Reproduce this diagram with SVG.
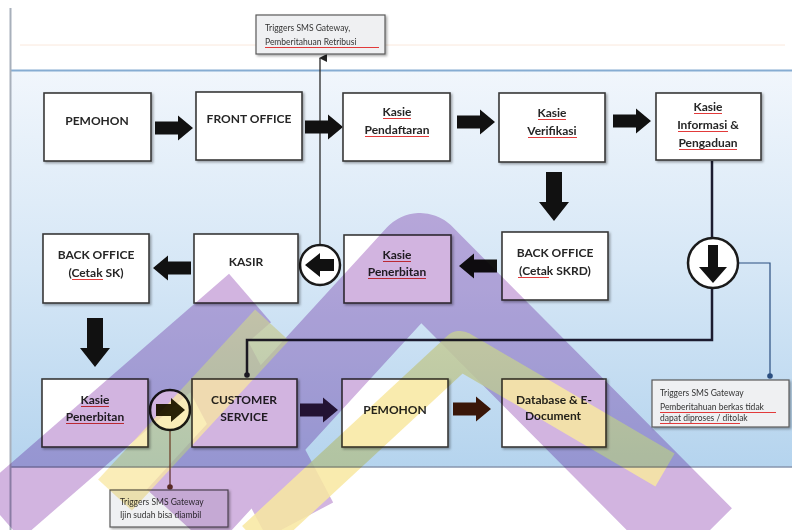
<svg xmlns="http://www.w3.org/2000/svg" xmlns:xlink="http://www.w3.org/1999/xlink" width="792" height="530" viewBox="0 0 792 530">
<defs>
<linearGradient id="bg" x1="0" y1="0" x2="0" y2="1">
<stop offset="0" stop-color="#f1f6fc"/>
<stop offset="0.5" stop-color="#d6e7f6"/>
<stop offset="1" stop-color="#b5d4ee"/>
</linearGradient>
<filter id="sh" x="-10%" y="-10%" width="125%" height="130%">
<feDropShadow dx="1.5" dy="1.5" stdDeviation="1" flood-color="#000" flood-opacity="0.35"/>
</filter>
<path id="arrH" d="M0,-6.5 H23 V-12.5 L38,0 L23,12.5 V6.5 H0 Z"/>
<path id="arrV" d="M-8,0 H8 V30 H15 L0,49 L-15,30 H-8 Z"/>
<marker id="dot" viewBox="0 0 6 6" refX="3" refY="3" markerWidth="6" markerHeight="6" markerUnits="userSpaceOnUse">
<circle cx="3" cy="3" r="2.8" fill="context-stroke"/>
</marker>
<marker id="tri" viewBox="0 0 8 8" refX="4" refY="1" markerWidth="8" markerHeight="8" markerUnits="userSpaceOnUse" orient="auto-start-reverse">
<path d="M0,8 L4,0 L8,8 Z" fill="#222"/>
</marker>
</defs>
<style>
.box{fill:#ffffff;stroke:#3a3a3a;stroke-width:1.6;filter:url(#sh)}
.trig{fill:#eff0f2;stroke:#5a5a5a;stroke-width:1.2;filter:url(#sh)}
.t{font-family:Lato,"Liberation Sans",sans-serif;font-weight:bold;font-size:12px;fill:#262626;text-anchor:middle}
.s{font-family:Lato,"Liberation Sans",sans-serif;font-size:8.5px;fill:#333}
.sq{stroke:#e23a3a;stroke-width:1;fill:none}
.blk{fill:#111}
.circ{fill:#ffffff;stroke:#1a1a1a;stroke-width:2.5}
#watermark{mix-blend-mode:multiply}
.wp{fill:none;stroke:#d2b4e0;stroke-linejoin:round}
.wy{fill:none;stroke:#f8e7a0;stroke-linejoin:round}
</style>
<rect x="0" y="0" width="792" height="530" fill="#ffffff"/>
<line x1="20" y1="45" x2="785" y2="45" stroke="#f6d9c4" stroke-width="1" opacity="0.6"/>
<rect x="10" y="70" width="790" height="397" fill="url(#bg)"/>
<line x1="10" y1="70.5" x2="792" y2="70.5" stroke="#86acd2" stroke-width="2"/>
<line x1="10" y1="467" x2="792" y2="467" stroke="#8796ae" stroke-width="1.5"/>
<line x1="10.5" y1="8" x2="10.5" y2="530" stroke="#a8b0bb" stroke-width="2"/>

<g id="connectors">
<line x1="320" y1="245" x2="320" y2="58" stroke="#2a2a2a" stroke-width="1.3" marker-end="url(#tri)"/>
<polyline points="712,161 712,238" fill="none" stroke="#1c1c30" stroke-width="2.5"/>
<polyline points="712,288 712,340 247,340 247,375" fill="none" stroke="#1c1c30" stroke-width="2.5" marker-end="url(#dot)"/>
<polyline points="738,263 770,263 770,376" fill="none" stroke="#2b4f80" stroke-width="1.2" marker-end="url(#dot)"/>
<line x1="170" y1="431" x2="170" y2="487" stroke="#6b3a2a" stroke-width="1.2" marker-end="url(#dot)"/>
<use href="#arrH" class="blk" transform="translate(155,128)"/>
<use href="#arrH" class="blk" transform="translate(305,127)"/>
<use href="#arrH" class="blk" transform="translate(457,122)"/>
<use href="#arrH" class="blk" transform="translate(613,121)"/>
<use href="#arrV" class="blk" transform="translate(554,172)"/>
<use href="#arrH" class="blk" transform="translate(497,266) rotate(180)"/>
<use href="#arrH" class="blk" transform="translate(191,268) rotate(180)"/>
<use href="#arrV" class="blk" transform="translate(95,318)"/>
<use href="#arrH" fill="#2a1a3a" transform="translate(300,410)"/>
<use href="#arrH" fill="#3a1608" transform="translate(453,409)"/>
</g>

<g id="circle-kasir">
<circle class="circ" cx="320" cy="265" r="20"/>
<path class="blk" d="M334,259 H320 V253 L305,265 L320,277 V271 H334 Z"/>
</g>
<g id="circle-info">
<circle class="circ" cx="713" cy="263" r="25"/>
<path class="blk" d="M708,245 H718 V267 H727 L713,283 L699,267 H708 Z"/>
</g>
<g id="circle-cs">
<circle class="circ" cx="170" cy="410" r="20" stroke="#3a3010"/>
<path fill="#2a2408" d="M156,404 H171 V398 L185,410 L171,422 V416 H156 Z"/>
</g>

<g id="trigger-retribusi">
<rect class="trig" x="256" y="15" width="129" height="39"/>
<text class="s" x="265" y="31">Triggers SMS Gateway,</text>
<text class="s" x="265" y="45">Pemberitahuan Retribusi</text>
</g>
<g id="pemohon1"><rect class="box" x="44" y="93" width="107" height="68"/><text class="t" x="97" y="125">PEMOHON</text></g>
<g id="front-office"><rect class="box" x="196" y="92" width="106" height="68"/><text class="t" x="249" y="123">FRONT OFFICE</text></g>
<g id="kasie-pendaftaran"><rect class="box" x="343" y="93" width="107" height="68"/><text class="t" x="397" y="116">Kasie</text><text class="t" x="397" y="134">Pendaftaran</text></g>
<g id="kasie-verifikasi"><rect class="box" x="499" y="93" width="106" height="69"/><text class="t" x="552" y="117">Kasie</text><text class="t" x="552" y="135">Verifikasi</text></g>
<g id="kasie-informasi"><rect class="box" x="656" y="93" width="105" height="67"/><text class="t" x="708" y="111">Kasie</text><text class="t" x="708" y="129">Informasi &amp;</text><text class="t" x="708" y="147">Pengaduan</text></g>

<g id="back-office-sk"><rect class="box" x="43" y="234" width="106" height="69"/><text class="t" x="96" y="259">BACK OFFICE</text><text class="t" x="96" y="277">(Cetak SK)</text></g>
<g id="kasir"><rect class="box" x="194" y="234" width="104" height="69"/><text class="t" x="246" y="266">KASIR</text></g>
<g id="kasie-penerbitan1"><rect class="box" x="344" y="235" width="107" height="68"/><text class="t" x="397" y="259">Kasie</text><text class="t" x="397" y="276">Penerbitan</text></g>
<g id="back-office-skrd"><rect class="box" x="502" y="232" width="106" height="68"/><text class="t" x="555" y="257">BACK OFFICE</text><text class="t" x="555" y="275">(Cetak SKRD)</text></g>

<g id="kasie-penerbitan2"><rect class="box" x="42" y="379" width="106" height="68"/><text class="t" x="95" y="404">Kasie</text><text class="t" x="95" y="421">Penerbitan</text></g>
<g id="customer-service"><rect class="box" x="192" y="379" width="105" height="68"/><text class="t" x="244" y="404">CUSTOMER</text><text class="t" x="244" y="421">SERVICE</text></g>
<g id="pemohon2"><rect class="box" x="342" y="379" width="106" height="68"/><text class="t" x="395" y="414">PEMOHON</text></g>
<g id="database"><rect class="box" x="502" y="379" width="104" height="68"/><text class="t" x="554" y="404">Database &amp; E-</text><text class="t" x="553" y="420">Document</text></g>

<g id="trigger-ditolak">
<rect class="trig" x="652" y="380" width="137" height="47"/>
<text class="s" x="660" y="396">Triggers SMS Gateway</text>
<text class="s" x="660" y="410">Pemberitahuan berkas tidak</text>
<text class="s" x="660" y="421">dapat diproses / ditolak</text>
</g>
<g id="trigger-diambil">
<rect class="trig" x="110" y="490" width="118" height="37"/>
<text class="s" x="120" y="505">Triggers SMS Gateway</text>
<text class="s" x="120" y="518">Ijin sudah bisa diambil</text>
</g>

<g id="spellmarks">
<path class="sq" d="M265,47.5 H379"/>
<path class="sq" d="M660,412.5 H776 M660,423.5 H740"/>
<path class="sq" d="M383,118.5 H411 M365,136.5 H429"/>
<path class="sq" d="M538,119.5 H566 M528,137.5 H577"/>
<path class="sq" d="M694,113.5 H722 M678,131.5 H728 M679,149.5 H737"/>
<path class="sq" d="M72,279.5 H103 M518,277.5 H549"/>
<path class="sq" d="M383,261.5 H411 M368,278.5 H426"/>
<path class="sq" d="M81,406.5 H109 M66,423.5 H124"/>
</g>

<g id="watermark">
<path class="wp" d="M205,340 L300,520" stroke-width="75" stroke="#e6d8ee"/>
<path class="wp" d="M0,515 L250,298" stroke-width="64"/>
<path class="wp" d="M180,520 L420,258 L700,540" stroke-width="90"/>
<path class="wy" d="M115,495 L272,325" stroke-width="46" stroke-opacity="0.75"/>
<path class="wy" d="M255,540 L460,350 L665,470" stroke-width="38" stroke-opacity="0.85"/>
</g>
</svg>
